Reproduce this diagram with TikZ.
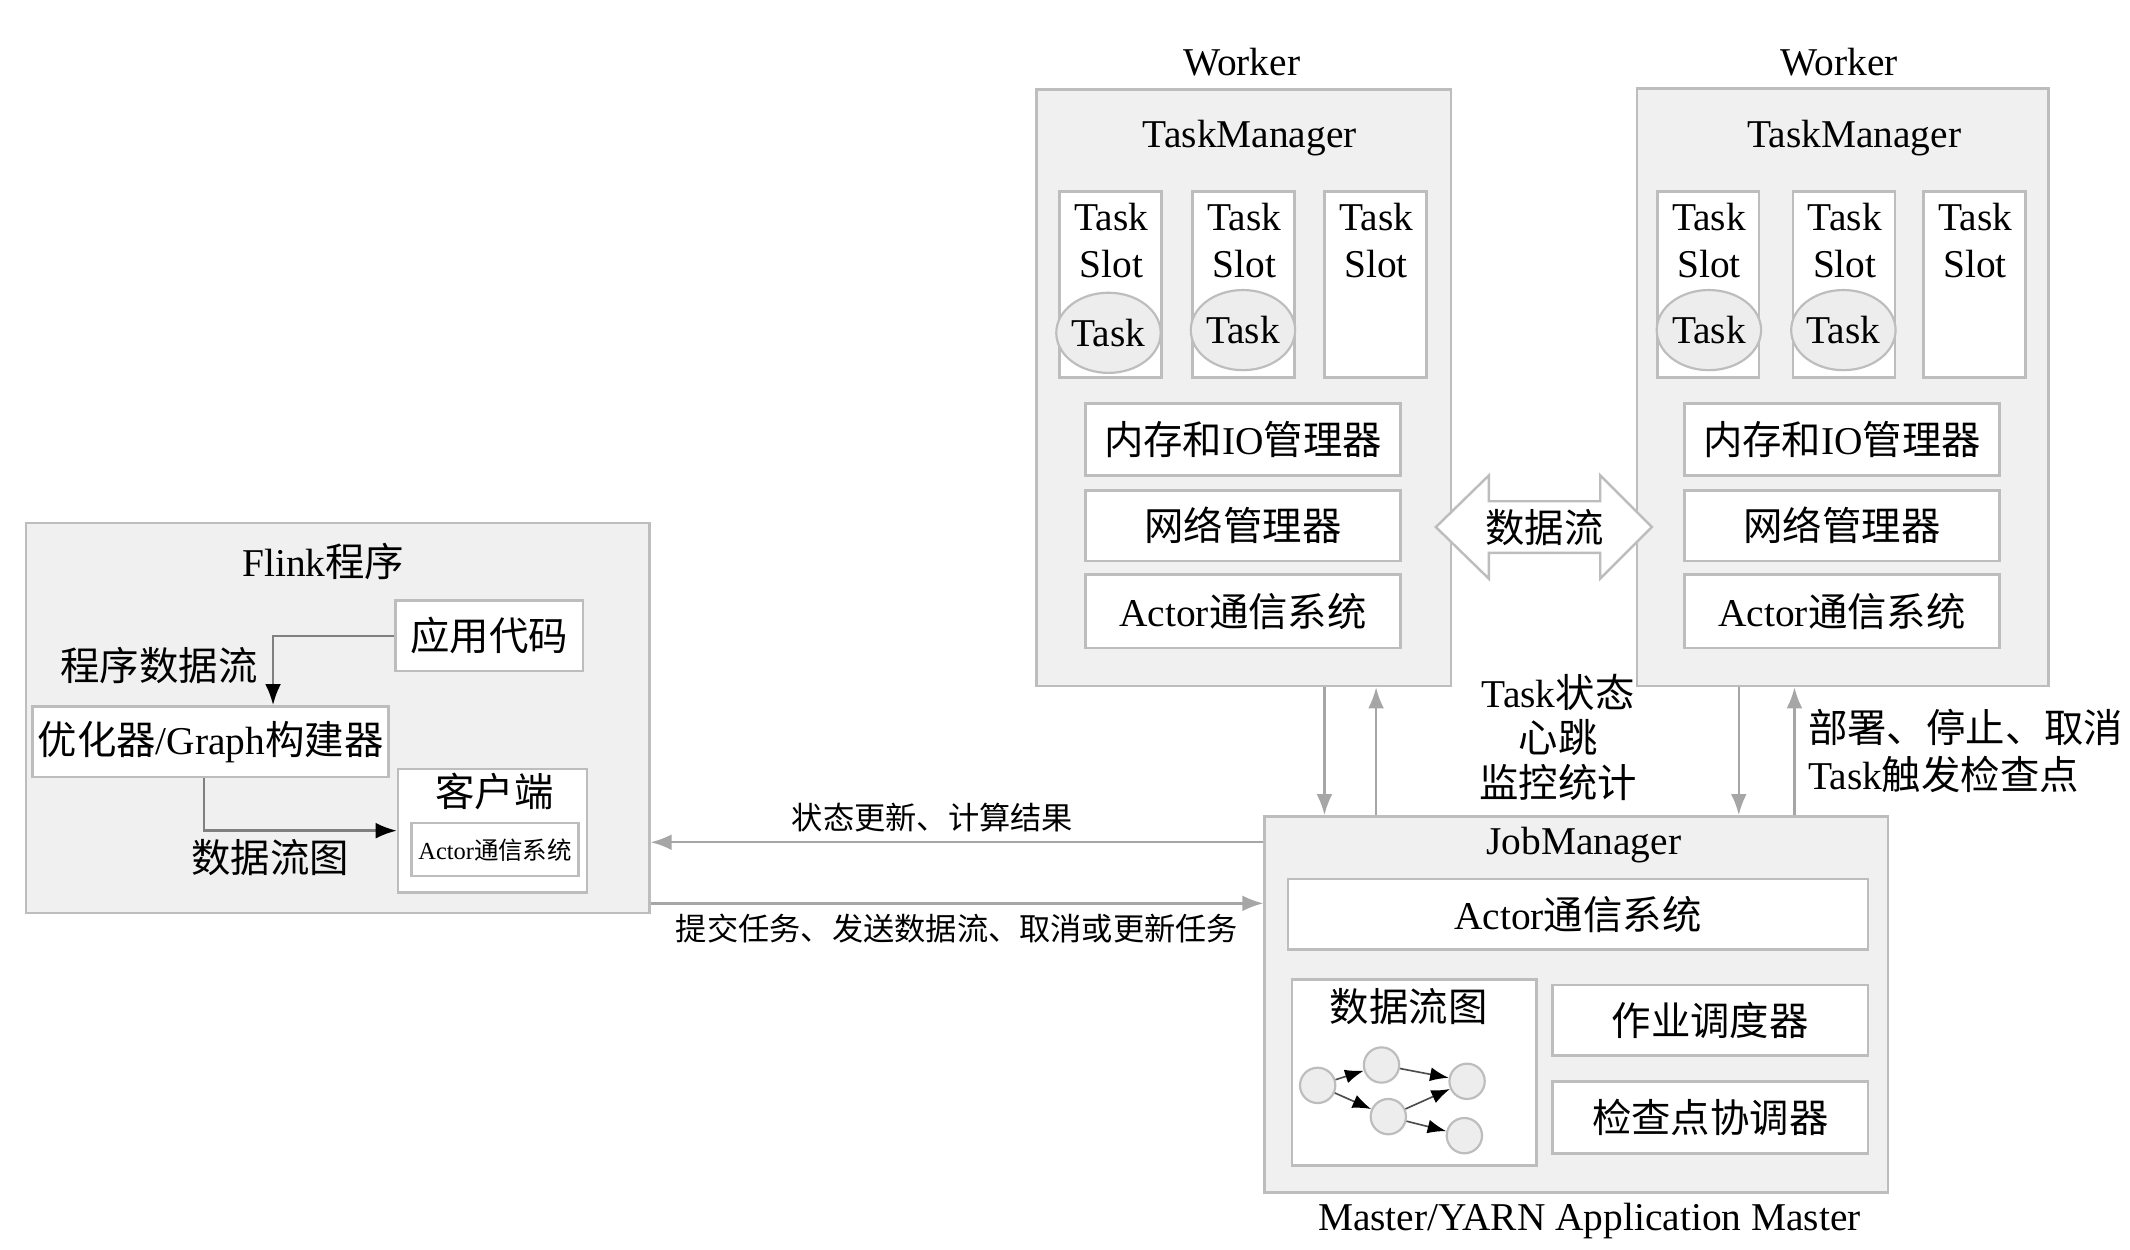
\documentclass[tikz,border=0pt]{standalone}
\usepackage{fontspec}
\setmainfont{Liberation Serif}
\newfontfamily\cjk{Noto Sans CJK SC}
\newcommand\zh[1]{{\cjk #1}}
\usepackage{xcolor}
\usetikzlibrary{calc}
\usetikzlibrary{positioning}
\usetikzlibrary{arrows.meta}
\usetikzlibrary{shapes}
\usetikzlibrary{fit}
\definecolor{boxgray}{HTML}{F0F0F0}
\definecolor{linegray}{HTML}{BDBDBD}
\definecolor{arrgray}{HTML}{A6A6A6}
\definecolor{ellgray}{HTML}{EDEDED}

\begin{document}
\begin{tikzpicture}[x=0.5pt,y=-0.5pt,font=\fontsize{14.5}{17.5}\selectfont,
      outer style/.style={draw=linegray,fill=boxgray,line width=0.9pt,inner sep=0pt},
      box style/.style={draw=linegray,fill=white,line width=0.9pt,inner sep=0pt},
      ell style/.style={ellipse,draw=linegray,fill=ellgray,line width=0.8pt,
        minimum width=34pt,minimum height=29.5pt,inner sep=0pt},
      dot style/.style={circle,draw=linegray,fill=ellgray,line width=0.8pt,
        minimum size=13pt,inner sep=0pt},
      flow arrow/.style={draw=arrgray,line width=0.9pt,-{Latex[scale=1.1]}},
      step arrow/.style={draw=gray,line width=0.9pt,-{Latex[scale=1.1,color=black]}},
      dag arrow/.style={draw=black!70,line width=0.6pt,-{Latex[scale=1.2,color=black]}},
      small label/.style={font=\fontsize{11.5}{14}\selectfont}
      ]
      \useasboundingbox (0,0) rectangle (1568,920);

      % Flink program
      \node[outer style,fit={(19,385) (478,672)}] (flink) {};
      \node (flinkt) at (238,413) {Flink\zh{程序}};
      \node[box style,fit={(291,442) (429,494)},label=center:\zh{应用代码}] (app) {};
      \node[box style,fit={(24,520) (286,572)},label=center:{\zh{优化器}/Graph\zh{构建器}}] (opt) {};
      \node[box style,fit={(293,566) (432,657)}] (client) {};
      \node (clientt) at (364,583) {\zh{客户端}};
      \node[box style,fit={(303,606) (426,645)},
        label={[font=\fontsize{9}{11}\selectfont]center:Actor\zh{通信系统}}] (cact) {};
      \node (progflow) at (117,490) {\zh{程序数据流}};
      \node (dfglbl) at (199,631) {\zh{数据流图}};
      \coordinate (p1) at (201,0);
      \coordinate (p2) at (150,0);
      \draw[step arrow] (app.west) -| (opt.north -| p1);
      \draw[step arrow] (opt.south -| p2) |- (client.west);

      % workers
      \node (wk1) at (914,46) {Worker};
      \node[outer style,fit={(763,66) (1068,505)}] (tm1) {};
      \node (tm1t) at (920,102) {TaskManager};
      \node (wk2) at (1354,46) {Worker};
      \node[outer style,fit={(1205,65) (1508,505)}] (tm2) {};
      \node (tm2t) at (1365,102) {TaskManager};
      \foreach \sx/\nm in {780/s11,878/s12,975/s13,1220/s21,1320/s22,1416/s23} {
        \node[box style,fit={(\sx,141) (\sx+75,278)}] (\nm) {};
        \node[align=center] (\nm t) at (\sx+38,177) {Task\\Slot};
      }
      \node[ell style] (t11) at (816,245) {Task};
      \node[ell style] (t12) at (915,243) {Task};
      \node[ell style] (t21) at (1258,243) {Task};
      \node[ell style] (t22) at (1357,243) {Task};
      \foreach \bx/\id in {799/1,1240/2} {
        \node[box style,fit={(\bx,297) (\bx+232,350)},label=center:{\zh{内存和}IO\zh{管理器}}] (mem\id) {};
        \node[box style,fit={(\bx,361) (\bx+232,413)},label=center:\zh{网络管理器}] (net\id) {};
        \node[box style,fit={(\bx,423) (\bx+232,477)},label=center:{Actor\zh{通信系统}}] (act\id) {};
      }

      % data flow between workers
      \draw[draw=linegray,fill=white,line width=0.9pt] (1057,388) -- (1096,350) -- (1096,369)
        -- (1178,369) -- (1178,350) -- (1216,388) -- (1178,426) -- (1178,407)
        -- (1096,407) -- (1096,426) -- cycle;
      \node (flow) at (1137,388) {\zh{数据流}};

      % job manager
      \node[outer style,fit={(931,601) (1390,878)}] (jm) {};
      \node (jmt) at (1166,622) {JobManager};
      \node[box style,fit={(948,647) (1375,699)},label=center:{Actor\zh{通信系统}}] (jmact) {};
      \node[box style,fit={(951,721) (1131,858)}] (dfg) {};
      \node (dfgt) at (1037,741) {\zh{数据流图}};
      \node[box style,fit={(1143,725) (1375,777)},label=center:\zh{作业调度器}] (sched) {};
      \node[box style,fit={(1143,796) (1375,849)},label=center:\zh{检查点协调器}] (ckpt) {};
      \node (mst) at (1170,899) {Master/YARN Application Master};
      \node[dot style] (va) at (970,799) {};
      \node[dot style] (vb) at (1017,784) {};
      \node[dot style] (vc) at (1080,796) {};
      \node[dot style] (vd) at (1022,822) {};
      \node[dot style] (ve) at (1078,836) {};
      \draw[dag arrow] (va) -- (vb);
      \draw[dag arrow] (va) -- (vd);
      \draw[dag arrow] (vb) -- (vc);
      \draw[dag arrow] (vd) -- (vc);
      \draw[dag arrow] (vd) -- (ve);

      % messages
      \coordinate (d1) at (975,0);
      \coordinate (u1) at (1013,0);
      \coordinate (d2) at (1280,0);
      \coordinate (u2) at (1321,0);
      \coordinate (h1) at (0,620);
      \coordinate (h2) at (0,665);
      \draw[flow arrow] (tm1.south -| d1) -- (jm.north -| d1);
      \draw[flow arrow] (jm.north -| u1) -- (tm1.south -| u1);
      \draw[flow arrow] (tm2.south -| d2) -- (jm.north -| d2);
      \draw[flow arrow] (jm.north -| u2) -- (tm2.south -| u2);
      \node[align=center,font=\fontsize{14.5}{16.5}\selectfont] (hb) at (1147,543) {Task\zh{状态}\\\zh{心跳}\\\zh{监控统计}};
      \node[align=left,anchor=west] (deploy) at (1324,553) {\zh{部署、停止、取消}\\Task\zh{触发检查点}};
      \draw[flow arrow] (jm.west |- h1) -- node[above,pos=0.54,small label] (upd) {\zh{状态更新、计算结果}} (flink.east |- h1);
      \draw[flow arrow] (flink.east |- h2) -- node[below,small label] (sub) {\zh{提交任务、发送数据流、取消或更新任务}} (jm.west |- h2);
    \end{tikzpicture}
\end{document}
